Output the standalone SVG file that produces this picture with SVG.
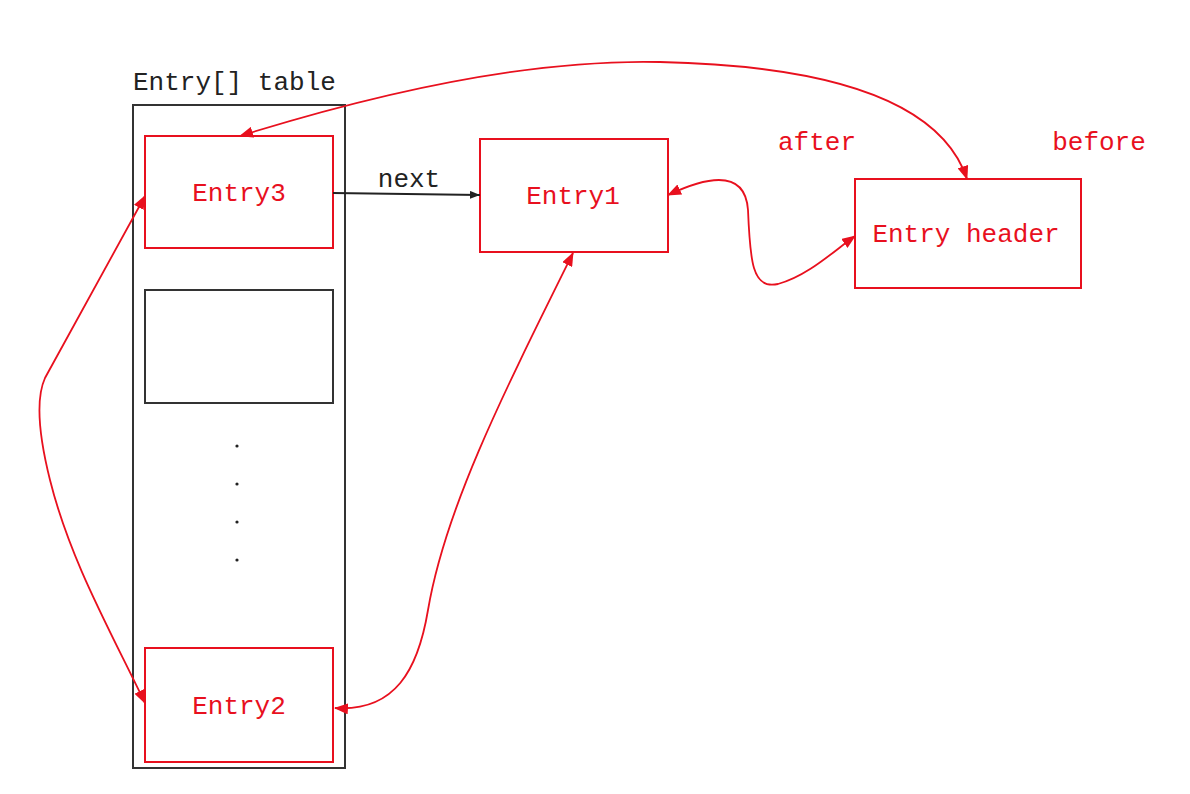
<svg xmlns="http://www.w3.org/2000/svg" width="1190" height="794" viewBox="0 0 1190 794">
<style>
.red{fill:none;stroke:#e8101e;stroke-width:2}
.blk{fill:none;stroke:#333;stroke-width:2}
.rt{font-family:"Liberation Mono","DejaVu Sans Mono",monospace;font-size:26px;fill:#e8101e;text-anchor:middle}
.bt{font-family:"Liberation Mono","DejaVu Sans Mono",monospace;font-size:26px;fill:#222}
.rc{fill:none;stroke:#e8101e;stroke-width:1.8}
</style>
<defs>
<marker id="ar" viewBox="0 0 14 11" refX="13" refY="5.5" markerWidth="14" markerHeight="11" markerUnits="userSpaceOnUse" orient="auto-start-reverse"><path d="M0 0 L14 5.5 L0 11 Z" fill="#e8101e"/></marker>
<marker id="ab" viewBox="0 0 10 8" refX="10" refY="4" markerWidth="10" markerHeight="8" markerUnits="userSpaceOnUse" orient="auto"><path d="M0 0 L10 4 L0 8 Z" fill="#222"/></marker>
</defs>
<rect width="1190" height="794" fill="#fff"/>
<g id="table">
<rect x="133" y="105" width="212" height="663" class="blk"/>
<text x="133" y="90" class="bt">Entry[] table</text>
<g fill="#222"><circle cx="237" cy="446" r="1.6"/><circle cx="237" cy="484" r="1.6"/><circle cx="237" cy="522" r="1.6"/><circle cx="237" cy="560" r="1.6"/></g>
</g>
<g id="entry3"><rect x="145" y="136" width="188" height="112" class="red"/><text x="239" y="201" class="rt">Entry3</text></g>
<g id="empty"><rect x="145" y="290" width="188" height="113" class="blk"/></g>
<g id="entry2"><rect x="145" y="648" width="188" height="114" class="red"/><text x="239" y="714" class="rt">Entry2</text></g>
<g id="entry1"><rect x="480" y="139" width="188" height="113" class="red"/><text x="573" y="204" class="rt">Entry1</text></g>
<g id="header"><rect x="855" y="179" width="226" height="109" class="red"/><text x="966" y="242" class="rt">Entry header</text></g>
<g id="labels">
<text x="817" y="150" class="rt">after</text>
<text x="1099" y="150" class="rt">before</text>
<text x="409" y="187" class="bt" text-anchor="middle">next</text>
</g>
<g id="connectors">
<path d="M333 193 L480 195" fill="none" stroke="#222" stroke-width="1.8" marker-end="url(#ab)"/>
<path d="M240 136 Q490 58 660 62 Q930 68 967 179" class="rc" marker-start="url(#ar)" marker-end="url(#ar)"/>
<path d="M668 195 C700 180 745 165 748 210 C750 260 752 290 778 284 C808 276 835 250 855 236" class="rc" marker-start="url(#ar)" marker-end="url(#ar)"/>
<path d="M335 708 C395 712 418 670 428 610 C445 510 500 400 573 253" class="rc" marker-start="url(#ar)" marker-end="url(#ar)"/>
<path d="M145 196 L45 378 C35 400 40 440 50 480 C70 560 110 630 145 703" class="rc" marker-start="url(#ar)" marker-end="url(#ar)"/>
</g>
</svg>
